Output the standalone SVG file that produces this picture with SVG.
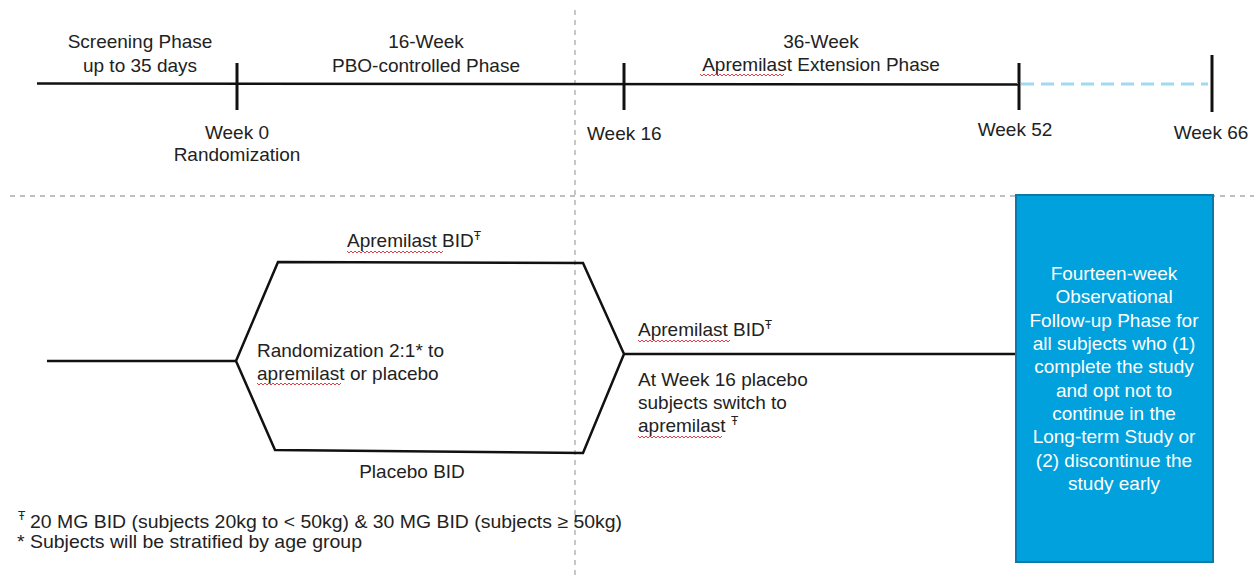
<svg xmlns="http://www.w3.org/2000/svg" width="1254" height="579" viewBox="0 0 1254 579">
<style>
text{font-family:"Liberation Sans",Arial,sans-serif;font-size:19px;fill:#222}
.c{text-anchor:middle}
.fn{font-size:18.5px}
.w{fill:#fff}
.ln{stroke:#111;stroke-width:2.5;fill:none;stroke-linejoin:miter}
.tk{stroke:#111;stroke-width:3}
.grid{stroke:#aaa;stroke-width:1.3;stroke-dasharray:5 5;fill:none}
.sq{stroke:#e0404a;stroke-width:1;fill:none}
.sup{font-size:12px}
</style>
<rect width="1254" height="579" fill="#fff"/>
<g id="guides">
<line class="grid" x1="575" y1="10" x2="575" y2="579"/>
<line class="grid" x1="10" y1="196" x2="1254" y2="196"/>
</g>
<g id="connectors">
<line class="ln" x1="37" y1="83.5" x2="1019" y2="84.5"/>
<line x1="1021" y1="84" x2="1208" y2="84" stroke="#9fd9f2" stroke-width="3" stroke-dasharray="13 7"/>
<line class="tk" x1="237" y1="63" x2="237" y2="110"/>
<line class="tk" x1="624" y1="63" x2="624" y2="110"/>
<line class="tk" x1="1019" y1="63" x2="1019" y2="110"/>
<line class="tk" x1="1212" y1="55" x2="1212" y2="112"/>
<line class="ln" x1="47" y1="361" x2="236" y2="361"/>
<path class="ln" d="M236,361 L278,262 L583,263 L624,354 L583,453 L275,450 Z"/>
<line class="ln" x1="624" y1="354" x2="1016" y2="354"/>
</g>
<g id="timeline-labels">
<text class="c" x="140" y="48">Screening Phase</text>
<text class="c" x="140" y="72">up to 35 days</text>
<text class="c" x="426" y="48">16-Week</text>
<text class="c" x="426" y="72">PBO-controlled Phase</text>
<text class="c" x="821" y="48">36-Week</text>
<text class="c" x="821" y="71">Apremilast Extension Phase</text>
<path class="sq" d="M700,74 l2,2 l2,-2 l2,2 l2,-2 l2,2 l2,-2 l2,2 l2,-2 l2,2 l2,-2 l2,2 l2,-2 l2,2 l2,-2 l2,2 l2,-2 l2,2 l2,-2 l2,2 l2,-2 l2,2 l2,-2 l2,2 l2,-2 l2,2 l2,-2 l2,2 l2,-2 l2,2 l2,-2 l2,2 l2,-2 l2,2 l2,-2 l2,2 l2,-2 l2,2 l2,-2 l2,2 l2,-2 l2,2 l2,-2"/>
<text class="c" x="237" y="139">Week 0</text>
<text class="c" x="237" y="161">Randomization</text>
<text x="587" y="140">Week 16</text>
<text class="c" x="1015" y="136">Week 52</text>
<text class="c" x="1211" y="139">Week 66</text>
</g>
<g id="node-randomization">
<text x="347" y="247">Apremilast BID<tspan class="sup" dy="-7">Ŧ</tspan></text>
<path class="sq" d="M347,251 l2,2 l2,-2 l2,2 l2,-2 l2,2 l2,-2 l2,2 l2,-2 l2,2 l2,-2 l2,2 l2,-2 l2,2 l2,-2 l2,2 l2,-2 l2,2 l2,-2 l2,2 l2,-2 l2,2 l2,-2 l2,2 l2,-2 l2,2 l2,-2 l2,2 l2,-2 l2,2 l2,-2 l2,2 l2,-2 l2,2 l2,-2 l2,2 l2,-2 l2,2 l2,-2 l2,2 l2,-2 l2,2 l2,-2 l2,2 l2,-2 l2,2 l2,-2 l2,2 l2,-2"/>
<text x="257" y="357">Randomization 2:1* to</text>
<text x="257" y="380">apremilast or placebo</text>
<path class="sq" d="M257,383 l2,2 l2,-2 l2,2 l2,-2 l2,2 l2,-2 l2,2 l2,-2 l2,2 l2,-2 l2,2 l2,-2 l2,2 l2,-2 l2,2 l2,-2 l2,2 l2,-2 l2,2 l2,-2 l2,2 l2,-2 l2,2 l2,-2 l2,2 l2,-2 l2,2 l2,-2 l2,2 l2,-2 l2,2 l2,-2 l2,2 l2,-2 l2,2 l2,-2 l2,2 l2,-2 l2,2 l2,-2 l2,2 l2,-2"/>
<text class="c" x="412" y="478">Placebo BID</text>
</g>
<g id="node-extension">
<text x="638" y="336">Apremilast BID<tspan class="sup" dy="-7">Ŧ</tspan></text>
<path class="sq" d="M638,340 l2,2 l2,-2 l2,2 l2,-2 l2,2 l2,-2 l2,2 l2,-2 l2,2 l2,-2 l2,2 l2,-2 l2,2 l2,-2 l2,2 l2,-2 l2,2 l2,-2 l2,2 l2,-2 l2,2 l2,-2 l2,2 l2,-2 l2,2 l2,-2 l2,2 l2,-2 l2,2 l2,-2 l2,2 l2,-2 l2,2 l2,-2 l2,2 l2,-2 l2,2 l2,-2 l2,2 l2,-2 l2,2 l2,-2 l2,2 l2,-2 l2,2 l2,-2"/>
<text x="638" y="386">At Week 16 placebo</text>
<text x="638" y="409">subjects switch to</text>
<text x="638" y="432">apremilast <tspan class="sup" dy="-7">Ŧ</tspan></text>
<path class="sq" d="M638,436 l2,2 l2,-2 l2,2 l2,-2 l2,2 l2,-2 l2,2 l2,-2 l2,2 l2,-2 l2,2 l2,-2 l2,2 l2,-2 l2,2 l2,-2 l2,2 l2,-2 l2,2 l2,-2 l2,2 l2,-2 l2,2 l2,-2 l2,2 l2,-2 l2,2 l2,-2 l2,2 l2,-2 l2,2 l2,-2 l2,2 l2,-2 l2,2 l2,-2 l2,2 l2,-2 l2,2 l2,-2 l2,2 l2,-2"/>
</g>
<g id="node-followup">
<rect x="1016" y="195" width="197" height="367" fill="#00a1dc" stroke="#0a7aa8" stroke-width="2"/>
<text class="c w" x="1114" y="280">Fourteen-week</text>
<text class="c w" x="1114" y="303">Observational</text>
<text class="c w" x="1114" y="327">Follow-up Phase for</text>
<text class="c w" x="1114" y="350">all subjects who (1)</text>
<text class="c w" x="1114" y="373">complete the study</text>
<text class="c w" x="1114" y="397">and opt not to</text>
<text class="c w" x="1114" y="420">continue in the</text>
<text class="c w" x="1114" y="443">Long-term Study or</text>
<text class="c w" x="1114" y="467">(2) discontinue the</text>
<text class="c w" x="1114" y="490">study early</text>
</g>
<g id="footnotes">
<text class="sup" x="18" y="520">Ŧ</text>
<text class="fn" x="30" y="528" textLength="592" lengthAdjust="spacingAndGlyphs">20 MG BID (subjects 20kg to &lt; 50kg) &amp; 30 MG BID (subjects ≥ 50kg)</text>
<text class="fn" x="17" y="548" textLength="345" lengthAdjust="spacingAndGlyphs">* Subjects will be stratified by age group</text>
</g>
</svg>
